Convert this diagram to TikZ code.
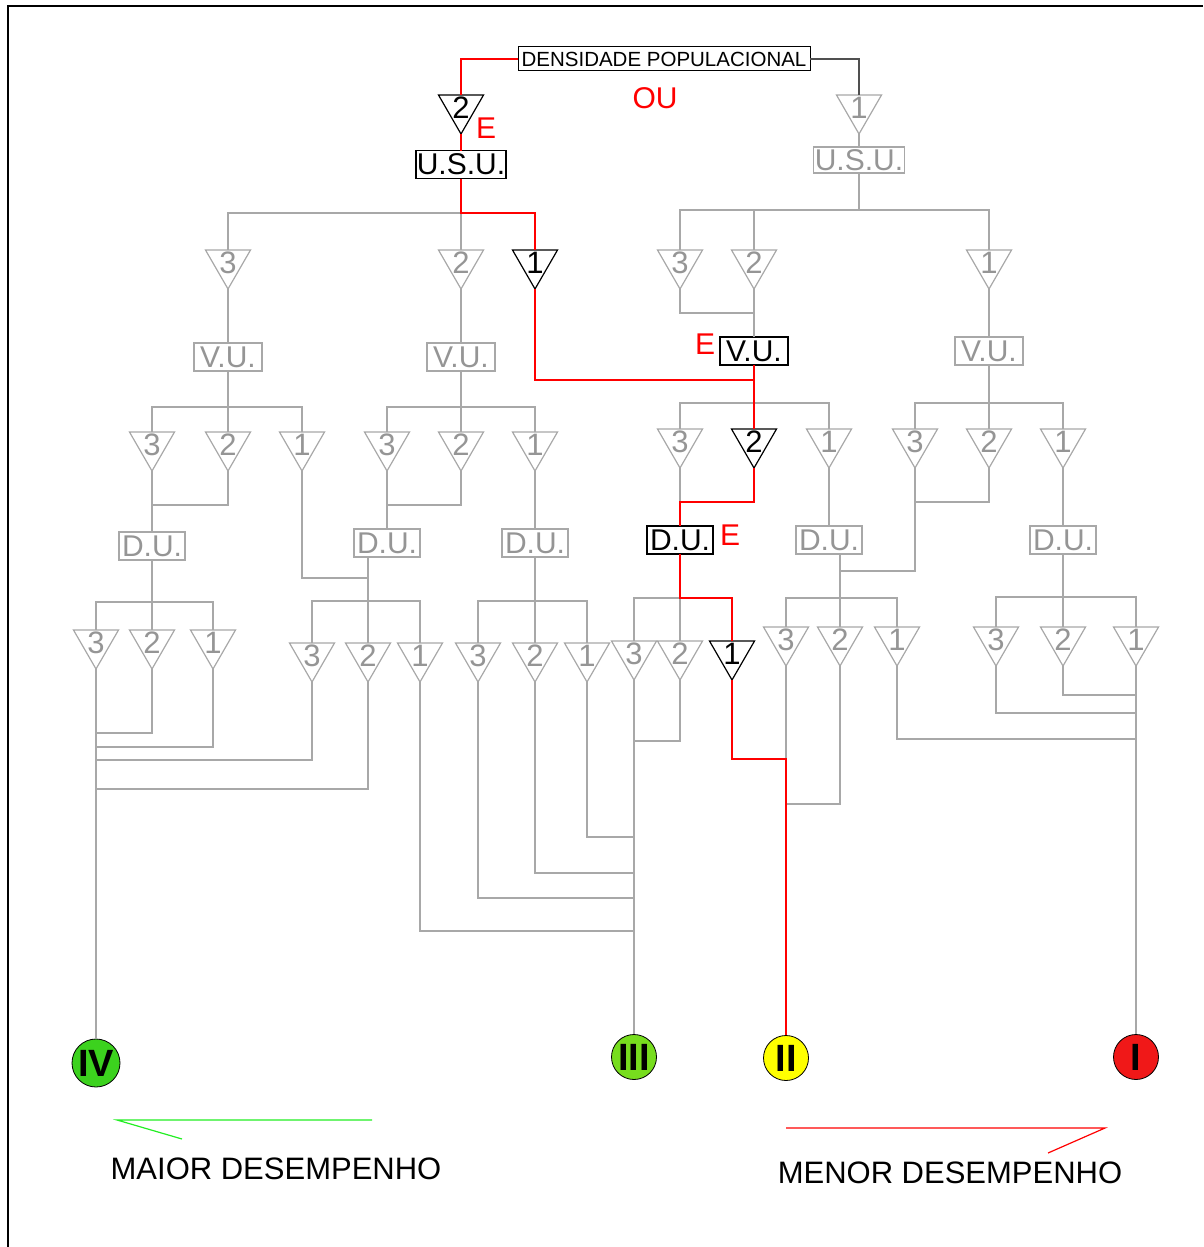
\documentclass[tikz,border=0pt]{standalone}
\usepackage{fontspec}
\setmainfont{Liberation Sans}
\usetikzlibrary{shapes.geometric,calc}
\newcommand\myfs[1]{\fontsize{#1}{#1}\selectfont}
\definecolor{lg}{HTML}{A8A8A8}
\definecolor{tg}{HTML}{959595}
\definecolor{dk}{HTML}{505050}
\definecolor{gIV}{HTML}{3CD21E}
\definecolor{gIII}{HTML}{77DD1E}
\definecolor{yII}{HTML}{FFFF00}
\definecolor{rI}{HTML}{F01818}
\definecolor{lgreen}{HTML}{22EE22}
\begin{document}
\begin{tikzpicture}[x=1pt,y=-1pt,
  trilab/.style={font=\myfs{31}, inner sep=0pt},
  tribase/.style={regular polygon, regular polygon sides=3, regular polygon rotate=180,
    minimum size=52pt, inner sep=0pt, outer sep=0pt, line width=1.2pt},
  trig/.style={tribase, draw=lg, label={[trilab, text=tg]center:#1}},
  trib/.style={tribase, draw=black, label={[trilab, text=black]center:#1}},
  boxbase/.style={inner sep=0pt, outer sep=0pt, minimum height=28pt, font=\myfs{30}, line width=1.2pt},
  boxg/.style={boxbase, draw=lg, text=tg},
  boxb/.style={boxbase, draw=black, text=black},
  elab/.style={text=red, font=\myfs{30}, inner sep=0pt},
  gl/.style={draw=lg, line width=1.4pt},
  rl/.style={draw=red, line width=1.5pt},
  circ/.style={circle, draw=black, line width=0.8pt, minimum size=45pt, inner sep=0pt, font=\bfseries\myfs{38}},
  legtext/.style={font=\myfs{31}, inner sep=0pt}
]
\useasboundingbox (0,0) rectangle (1203,1247);
\draw[line width=2.5pt] (8,1247) -- (8,6) -- (1203,6);

% top
\node[boxb, font=\myfs{20.5}, minimum width=292pt, minimum height=24pt, line width=1pt] (dens) at (664,59) {DENSIDADE POPULACIONAL};
\node[elab] (ou) at (655,98) {OU};
\node[trib=2] (tA) at (461,108) {};
\node[trig=1] (tB) at (859,108) {};
\node[elab] (lblE1) at (486,128) {E};
\node[boxb, minimum width=90pt] (usuA) at (461,164.5) {U.S.U.};
\node[boxg, minimum width=91pt, minimum height=26pt] (usuB) at (859,160) {U.S.U.};

% level 2
\node[trig=3] (t21) at (228,263) {};
\node[trig=2] (t22) at (461,263) {};
\node[trib=1] (t23) at (535,263) {};
\node[trig=3] (t24) at (680,263) {};
\node[trig=2] (t25) at (754,263) {};
\node[trig=1] (t26) at (989,263) {};

\node[boxg, minimum width=68pt] (vu1) at (228,357) {V.U.};
\node[boxg, minimum width=68pt] (vu2) at (461,357) {V.U.};
\node[boxb, minimum width=68pt] (vu3) at (754,351) {V.U.};
\node[boxg, minimum width=68pt] (vu4) at (989,351) {V.U.};
\node[elab] (lblE2) at (705,344) {E};

% level 3
\node[trig=3] (t31) at (152,445) {};
\node[trig=2] (t32) at (228,445) {};
\node[trig=1] (t33) at (302,445) {};
\node[trig=3] (t34) at (387,445) {};
\node[trig=2] (t35) at (461,445) {};
\node[trig=1] (t36) at (535,445) {};
\node[trig=3] (t37) at (680,442) {};
\node[trib=2] (t38) at (754,442) {};
\node[trig=1] (t39) at (829,442) {};
\node[trig=3] (t3a) at (915,442) {};
\node[trig=2] (t3b) at (989,442) {};
\node[trig=1] (t3c) at (1063,442) {};

\node[boxg, minimum width=66pt] (du1) at (152,546) {D.U.};
\node[boxg, minimum width=66pt] (du2) at (387,543) {D.U.};
\node[boxg, minimum width=66pt] (du3) at (535,543) {D.U.};
\node[boxb, minimum width=66pt] (du4) at (680,540) {D.U.};
\node[boxg, minimum width=66pt] (du5) at (829,540) {D.U.};
\node[boxg, minimum width=66pt] (du6) at (1063,540) {D.U.};
\node[elab] (lblE3) at (730,535) {E};
\coordinate (du2o) at ($(du2.south)+(-19,0)$);
\coordinate (du5o) at ($(du5.south)+(11,0)$);

% level 4
\node[trig=3] (a3) at (96,643) {};
\node[trig=2] (a2) at (152,643) {};
\node[trig=1] (a1) at (213,643) {};
\node[trig=3] (b3) at (312,656) {};
\node[trig=2] (b2) at (368,656) {};
\node[trig=1] (b1) at (420,656) {};
\node[trig=3] (c3) at (478,656) {};
\node[trig=2] (c2) at (535,656) {};
\node[trig=1] (c1) at (587,656) {};
\node[trig=3] (d3) at (634,654) {};
\node[trig=2] (d2) at (680,654) {};
\node[trib=1] (d1) at (732,654) {};
\node[trig=3] (e3) at (786,640) {};
\node[trig=2] (e2) at (840,640) {};
\node[trig=1] (e1) at (897,640) {};
\node[trig=3] (f3) at (996,640) {};
\node[trig=2] (f2) at (1063,640) {};
\node[trig=1] (f1) at (1136,640) {};

% circles
\node[circ, fill=gIV, minimum size=48pt] (cIV) at (96,1063) {IV};
\node[circ, fill=gIII] (cIII) at (634,1057) {III};
\node[circ, fill=yII] (cII) at (786,1058) {II};
\node[circ, fill=rI] (cI) at (1136,1057) {I};

% grey connectors
\draw[draw=dk, line width=1.2pt] (dens.east) -| (tB.90);
\draw[gl] (tB.270) -- (usuB.north);
\draw[gl] (t21.90) |- (t22.90 |- 0,213) -- (t22.90);
\draw[gl] (usuB.south) -- (usuB.south |- 0,210);
\draw[gl] (t24.90) |- (t26.90 |- 0,210) -- (t26.90);
\draw[gl] (t25.90) -- (t25.90 |- 0,210);
\draw[gl] (t21.270) -- (vu1.north);
\draw[gl] (t22.270) -- (vu2.north);
\draw[gl] (t24.270) |- (t25.270 |- 0,313);
\draw[gl] (t25.270) -- (vu3.north);
\draw[gl] (t26.270) -- (vu4.north);

\draw[gl] (vu1.south) -- (t32.90);
\draw[gl] (t31.90) |- (t33.90 |- 0,407) -- (t33.90);
\draw[gl] (vu2.south) -- (t35.90);
\draw[gl] (t34.90) |- (t36.90 |- 0,407) -- (t36.90);
\draw[gl] (t37.90) |- (t39.90 |- 0,403) -- (t39.90);
\draw[gl] (vu4.south) -- (t3b.90);
\draw[gl] (t3a.90) |- (t3c.90 |- 0,403) -- (t3c.90);

\draw[gl] (t31.270) -- (du1.north);
\draw[gl] (t32.270) |- (t31.270 |- 0,505);
\draw[gl] (t33.270) |- (du2o |- 0,578);
\draw[gl] (t34.270) -- (du2.north);
\draw[gl] (t35.270) |- (t34.270 |- 0,505);
\draw[gl] (t36.270) -- (du3.north);
\draw[gl] (t37.270) -- (t37.270 |- 0,502);
\draw[gl] (t39.270) -- (du5.north);
\draw[gl] (t3a.270) |- (du5o |- 0,571);
\draw[gl] (t3b.270) |- (t3a.270 |- 0,502);
\draw[gl] (t3c.270) -- (du6.north);

\draw[gl] (du1.south) -- (a2.90);
\draw[gl] (a3.90) |- (a1.90 |- 0,602) -- (a1.90);
\draw[gl] (du2o) -- (b2.90);
\draw[gl] (b3.90) |- (b1.90 |- 0,601) -- (b1.90);
\draw[gl] (du3.south) -- (c2.90);
\draw[gl] (c3.90) |- (c1.90 |- 0,601) -- (c1.90);
\draw[gl] (d3.90) |- (d2.90 |- 0,598) -- (d2.90);
\draw[gl] (du5o) -- (e2.90);
\draw[gl] (e3.90) |- (e1.90 |- 0,598) -- (e1.90);
\draw[gl] (du6.south) -- (f2.90);
\draw[gl] (f3.90) |- (f1.90 |- 0,597) -- (f1.90);

\draw[gl] (a3.270) -- (cIV.north);
\draw[gl] (a2.270) |- (a3.270 |- 0,733);
\draw[gl] (a1.270) |- (a3.270 |- 0,747);
\draw[gl] (b3.270) |- (a3.270 |- 0,760);
\draw[gl] (b2.270) |- (a3.270 |- 0,789);
\draw[gl] (b1.270) |- (d3.270 |- 0,931);
\draw[gl] (c3.270) |- (d3.270 |- 0,898);
\draw[gl] (c2.270) |- (d3.270 |- 0,873);
\draw[gl] (c1.270) |- (d3.270 |- 0,837);
\draw[gl] (d2.270) |- (d3.270 |- 0,741);
\draw[gl] (d3.270) -- (cIII.north);
\draw[gl] (e3.270) -- (e3.270 |- 0,804);
\draw[gl] (e2.270) |- (e3.270 |- 0,804);
\draw[gl] (e1.270) |- (f1.270 |- 0,739);
\draw[gl] (f2.270) |- (f1.270 |- 0,695);
\draw[gl] (f3.270) |- (f1.270 |- 0,713);
\draw[gl] (f1.270) -- (cI.north);

% red path
\draw[rl] (dens.west) -| (tA.90);
\draw[rl] (tA.270) -- (usuA.north);
\draw[rl] (usuA.south) |- (t23.90 |- 0,213) -- (t23.90);
\draw[rl] (t23.270) |- (vu3.south |- 0,380);
\draw[rl] (vu3.south) -- (t38.90);
\draw[rl] (t38.270) |- (du4.north |- 0,502) -- (du4.north);
\draw[rl] (du4.south) |- (d1.90 |- 0,598) -- (d1.90);
\draw[rl] (d1.270) |- (cII.north |- 0,759) -- (cII.north);

% legend
\draw[draw=lgreen, line width=1.2pt] (372,1120) -- (117,1120) -- (182,1139);
\node[legtext] (maior) at (276,1169) {MAIOR DESEMPENHO};
\draw[draw=red, line width=1.2pt] (786,1128) -- (1105,1128) -- (1048,1153);
\node[legtext] (menor) at (950,1173) {MENOR DESEMPENHO};
\end{tikzpicture}
\end{document}
